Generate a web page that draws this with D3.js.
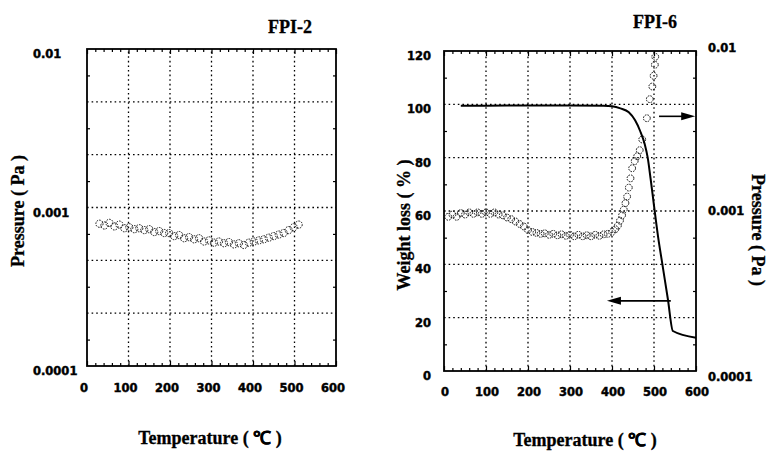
<!DOCTYPE html>
<html><head><meta charset="utf-8">
<script src="https://cdn.jsdelivr.net/npm/d3@7/dist/d3.min.js"></script>
<style>
html,body{margin:0;padding:0;background:#fff;}
svg{display:block;}
.tick-label{font-family:"DejaVu Sans",sans-serif;font-weight:bold;font-size:11.5px;fill:#000;stroke:#000;stroke-width:0.45px;}
.title{font-family:"Liberation Serif","Times New Roman",serif;font-weight:bold;font-size:18px;fill:#000;stroke:#000;stroke-width:0.3px;}
.axis-title{font-family:"Liberation Serif","Times New Roman",serif;font-weight:bold;font-size:18px;fill:#000;stroke:#000;stroke-width:0.3px;}
</style></head>
<body>
<script>
// ---------- DATA ----------
const xTickValues = [0, 100, 200, 300, 400, 500, 600];
const pressureTickValues = [0.0001, 0.001, 0.01];
const pressureTickLabels = ["0.0001", "0.001", "0.01"];
const weightTickValues = [0, 20, 40, 60, 80, 100, 120];

// FPI-2 pressure (Pa) vs temperature (°C)
const fpi2Temp = [30,42,54,66,78,90,102,114,126,138,150,162,174,186,198,210,222,234,246,258,270,282,294,306,318,330,342,354,366,378,390,402,414,426,438,450,462,474,486,498,510];
const fpi2Pressure = [7.9,7.7,8.0,7.6,7.8,7.4,7.5,7.3,7.4,7.2,7.3,7.0,7.1,6.9,6.9,6.6,6.7,6.4,6.5,6.3,6.4,6.1,6.2,6.0,6.1,5.95,6.05,5.85,5.95,5.8,6.0,6.1,6.2,6.3,6.45,6.6,6.75,6.9,7.2,7.5,7.8].map(v => v * 1e-4);

// FPI-6 pressure (Pa) vs temperature (°C)
const fpi6PTemp = [10,20,30,40,50,60,70,80,90,100,110,120,130,140,150,160,170,180,190,200,210,220,230,240,250,260,270,280,290,300,310,320,330,340,350,360,370,380,390,400,408,414,419,424,428,432,436,440,444,448,454,460,466,472,483,490,496,499,502,503];
const fpi6Pressure = [9.2,9.5,9.2,9.7,9.5,9.8,9.6,9.8,9.6,9.8,9.6,9.8,9.5,9.4,9.1,8.9,8.6,8.3,8.0,7.6,7.4,7.3,7.2,7.25,7.1,7.2,7.05,7.15,7.0,7.1,6.95,7.1,6.95,7.05,6.95,7.1,7.0,7.15,7.2,7.4,7.7,8.1,8.7,9.4,10.2,11.2,12.3,14,16,18.5,20.5,22,24,28,38,50,60,70,82,92].map(v => v * 1e-4);

// FPI-6 weight (%) vs temperature (°C)
const fpi6WTemp = [40,100,200,300,380,400,420,440,455,467,478,485,492,500,510,520,533,545,600];
const fpi6Weight = [99.5,99.5,99.6,99.6,99.5,99.3,98.5,97,94,90,85,80,72,62,50,40,27,15,12.5];

// annotation arrows [fromTemp, toTemp, atWeight]
const arrowRight = [512, 598, 95.5];
const arrowLeft = [540, 388, 26.3];

// ---------- SVG ----------
const W = 773, H = 452;
const svg = d3.select("body").append("svg").attr("width", W).attr("height", H);

const xL = d3.scaleLinear().domain([0, 600]).range([87, 336]);
const yL = d3.scaleLog().domain([1e-4, 1e-2]).range([366, 49]);
const xR = d3.scaleLinear().domain([0, 600]).range([444, 696]);
const yW = d3.scaleLinear().domain([0, 120]).range([371, 51]);
const yP = d3.scaleLog().domain([1e-4, 1e-2]).range([371, 51]);

const gridDash = "1.6,3";
const logGrid = d3.range(1, 6).map(k => Math.pow(10, -4 + k / 3));
const logMinor = d3.range(1, 12, 2).map(k => Math.pow(10, -4 + k / 6));
const xMinor = d3.range(0, 601, 20).filter(v => v % 100 !== 0);

function frame(g, x, y) {
  const [y0, y1] = y.range();
  g.append("g").selectAll("line").data([100,200,300,400,500]).join("line")
    .attr("x1", d => x(d)).attr("x2", d => x(d)).attr("y1", y0).attr("y2", y1)
    .attr("stroke", "#000").attr("stroke-width", 1.3).attr("stroke-dasharray", gridDash);
}

function hGrid(g, x, y, vals) {
  const [x0, x1] = x.range();
  g.append("g").selectAll("line").data(vals).join("line")
    .attr("x1", x0).attr("x2", x1).attr("y1", d => y(d)).attr("y2", d => y(d))
    .attr("stroke", "#000").attr("stroke-width", 1.3).attr("stroke-dasharray", gridDash);
}

function xAxes(g, x, y) {
  const [y0, y1] = y.range();
  const bottom = g.append("g").attr("transform", `translate(0,${y0})`);
  bottom.call(d3.axisBottom(x).tickValues(xTickValues).tickSize(-5).tickFormat(""));
  bottom.append("g").call(d3.axisBottom(x).tickValues(xMinor).tickSize(-3).tickFormat(""));
  const top = g.append("g").attr("transform", `translate(0,${y1})`);
  top.call(d3.axisTop(x).tickValues(xTickValues).tickSize(-5).tickFormat(""));
  top.append("g").call(d3.axisTop(x).tickValues(xMinor).tickSize(-3).tickFormat(""));
  g.selectAll(".domain").remove();
  g.selectAll(".tick line").attr("stroke", "#000").attr("stroke-width", 1.2);
}

function box(g, x, y) {
  const [x0, x1] = x.range(); const [y0, y1] = y.range();
  g.append("rect").attr("x", x0).attr("y", y1).attr("width", x1 - x0).attr("height", y0 - y1)
    .attr("fill", "none").attr("stroke", "#000").attr("stroke-width", 1.8);
}

function circles(g, x, y, tx, vy, r) {
  g.append("g").selectAll("circle").data(tx).join("circle")
    .attr("cx", d => x(d)).attr("cy", (d, i) => y(vy[i])).attr("r", r)
    .attr("fill", "none").attr("stroke", "#111").attr("stroke-width", 1)
    .attr("stroke-dasharray", "1.6,1.1");
}

// ---------- LEFT: FPI-2 ----------
const gL = svg.append("g");
frame(gL, xL, yL);
hGrid(gL, xL, yL, logGrid);
xAxes(gL, xL, yL);
gL.append("g").attr("transform", `translate(${xL.range()[0]},0)`)
  .call(d3.axisLeft(yL).tickValues(logMinor).tickSize(-3).tickFormat(""));
gL.append("g").attr("transform", `translate(${xL.range()[1]},0)`)
  .call(d3.axisRight(yL).tickValues(logMinor).tickSize(-3).tickFormat(""));
gL.selectAll(".domain").remove();
gL.selectAll(".tick line").attr("stroke", "#000").attr("stroke-width", 1.2);
box(gL, xL, yL);
circles(gL, xL, yL, fpi2Temp, fpi2Pressure, 3.6);

gL.append("g").selectAll("text").data(xTickValues).join("text")
  .attr("class", "tick-label").attr("x", d => xL(d) - 3).attr("y", 388)
  .attr("text-anchor", "middle").attr("dominant-baseline", "central").text(d => d);
gL.append("g").selectAll("text").data(pressureTickValues).join("text")
  .attr("class", "tick-label").attr("x", 33).attr("y", d => yL(d) + 5)
  .attr("text-anchor", "start").attr("dominant-baseline", "central")
  .text((d, i) => pressureTickLabels[i]);

gL.append("text").attr("class", "title").attr("x", 290).attr("y", 33).attr("text-anchor", "middle").text("FPI-2");
gL.append("text").attr("class", "axis-title").attr("transform", "translate(18,211) rotate(-90)")
  .attr("text-anchor", "middle").attr("dominant-baseline", "central").text("Pressure ( Pa )");
gL.append("text").attr("class", "axis-title").attr("x", 210).attr("y", 444)
  .attr("text-anchor", "middle").text("Temperature ( ℃ )");

// ---------- RIGHT: FPI-6 ----------
const gR = svg.append("g");
frame(gR, xR, yW);
hGrid(gR, xR, yW, [20, 40, 60, 80, 100]);
xAxes(gR, xR, yW);
gR.append("g").attr("transform", `translate(${xR.range()[0]},0)`)
  .call(d3.axisLeft(yW).tickValues(d3.range(10, 120, 20)).tickSize(-3).tickFormat(""));
gR.append("g").attr("transform", `translate(${xR.range()[1]},0)`)
  .call(d3.axisRight(yP).tickValues(logMinor).tickSize(-3).tickFormat(""));
gR.selectAll(".domain").remove();
gR.selectAll(".tick line").attr("stroke", "#000").attr("stroke-width", 1.2);
box(gR, xR, yW);

circles(gR, xR, yP, fpi6PTemp, fpi6Pressure, 3.4);

gR.append("path").datum(fpi6WTemp)
  .attr("d", d3.line().x(d => xR(d)).y((d, i) => yW(fpi6Weight[i])).curve(d3.curveMonotoneX))
  .attr("fill", "none").attr("stroke", "#000").attr("stroke-width", 2);

function arrow(g, t0, t1, w) {
  const xa = xR(t0), xb = xR(t1), yy = yW(w);
  const dir = Math.sign(xb - xa);
  g.append("line").attr("x1", xa).attr("x2", xb - dir * 10).attr("y1", yy).attr("y2", yy)
    .attr("stroke", "#000").attr("stroke-width", 1.6);
  g.append("path").attr("d", `M${xb},${yy} L${xb - dir * 14},${yy - 4} L${xb - dir * 14},${yy + 4} Z`)
    .attr("fill", "#000");
}
arrow(gR, arrowRight[0], arrowRight[1], arrowRight[2]);
arrow(gR, arrowLeft[0], arrowLeft[1], arrowLeft[2]);

gR.append("g").selectAll("text").data(xTickValues).join("text")
  .attr("class", "tick-label").attr("x", d => xR(d) + 1).attr("y", 392)
  .attr("text-anchor", "middle").attr("dominant-baseline", "central").text(d => d);
gR.append("g").selectAll("text").data(weightTickValues).join("text")
  .attr("class", "tick-label").attr("x", 431).attr("y", d => yW(d) + 5)
  .attr("text-anchor", "end").attr("dominant-baseline", "central").text(d => d);
gR.append("g").selectAll("text").data(pressureTickValues).join("text")
  .attr("class", "tick-label").attr("x", 708).attr("y", (d, i) => yP(d) + [6, 0, -3][i])
  .attr("text-anchor", "start").attr("dominant-baseline", "central")
  .text((d, i) => pressureTickLabels[i]);

gR.append("text").attr("class", "title").attr("x", 655).attr("y", 28).attr("text-anchor", "middle").text("FPI-6");
gR.append("text").attr("class", "axis-title").attr("transform", "translate(404,225) rotate(-90)")
  .attr("text-anchor", "middle").attr("dominant-baseline", "central").text("Weight loss ( % )");
gR.append("text").attr("class", "axis-title").attr("transform", "translate(758,230) rotate(90)")
  .attr("text-anchor", "middle").attr("dominant-baseline", "central").text("Pressure ( Pa )");
gR.append("text").attr("class", "axis-title").attr("x", 585).attr("y", 446)
  .attr("text-anchor", "middle").text("Temperature ( ℃ )");
</script>
</body></html>
